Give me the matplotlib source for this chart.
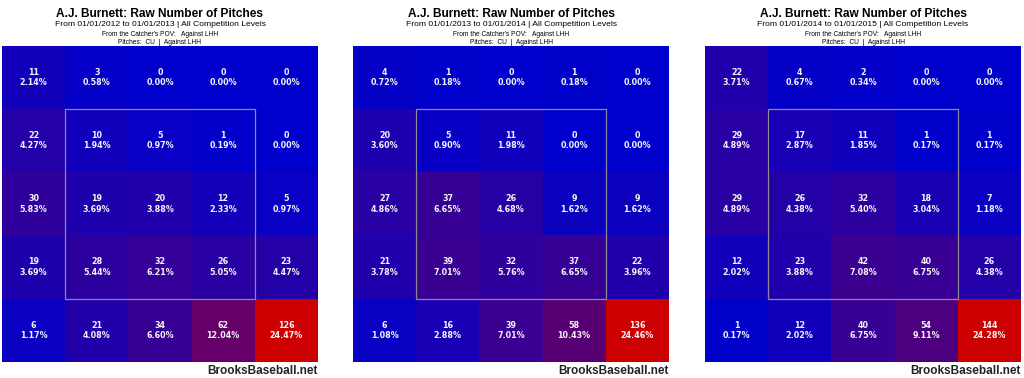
import matplotlib.pyplot as plt
from matplotlib.colors import LinearSegmentedColormap
from matplotlib.patches import Rectangle

W, H = 1024, 378

# Pitch counts by zone (rows top->bottom, cols left->right, catcher's POV)
counts_2012 = [[11, 3, 0, 0, 0],
               [22, 10, 5, 1, 0],
               [30, 19, 20, 12, 5],
               [19, 28, 32, 26, 23],
               [6, 21, 34, 62, 126]]
pcts_2012 = [[2.14, 0.58, 0.00, 0.00, 0.00],
             [4.27, 1.94, 0.97, 0.19, 0.00],
             [5.83, 3.69, 3.88, 2.33, 0.97],
             [3.69, 5.44, 6.21, 5.05, 4.47],
             [1.17, 4.08, 6.60, 12.04, 24.47]]

counts_2013 = [[4, 1, 0, 1, 0],
               [20, 5, 11, 0, 0],
               [27, 37, 26, 9, 9],
               [21, 39, 32, 37, 22],
               [6, 16, 39, 58, 136]]
pcts_2013 = [[0.72, 0.18, 0.00, 0.18, 0.00],
             [3.60, 0.90, 1.98, 0.00, 0.00],
             [4.86, 6.65, 4.68, 1.62, 1.62],
             [3.78, 7.01, 5.76, 6.65, 3.96],
             [1.08, 2.88, 7.01, 10.43, 24.46]]

counts_2014 = [[22, 4, 2, 0, 0],
               [29, 17, 11, 1, 1],
               [29, 26, 32, 18, 7],
               [12, 23, 42, 40, 26],
               [1, 12, 40, 54, 144]]
pcts_2014 = [[3.71, 0.67, 0.34, 0.00, 0.00],
             [4.89, 2.87, 1.85, 0.17, 0.17],
             [4.89, 4.38, 5.40, 3.04, 1.18],
             [2.02, 3.88, 7.08, 6.75, 4.38],
             [0.17, 2.02, 6.75, 9.11, 24.28]]

date_ranges = ["From 01/01/2012 to 01/01/2013",
               "From 01/01/2013 to 01/01/2014",
               "From 01/01/2014 to 01/01/2015"]

panels = [(counts_2012, pcts_2012), (counts_2013, pcts_2013), (counts_2014, pcts_2014)]
lefts = [2, 353, 705]  # pixel x of each heatmap
size = 316
top = 46

cmap = LinearSegmentedColormap.from_list('bb', ['#0000cc', '#cc0000'])

fig = plt.figure(figsize=(W / 100, H / 100), dpi=100)
fig.patch.set_facecolor('white')

for (counts, pcts), dates, left in zip(panels, date_ranges, lefts):
    ax = fig.add_axes([left / W, (H - top - size) / H, size / W, size / H])
    vmax = max(max(r) for r in counts)
    ax.imshow(counts, cmap=cmap, vmin=0, vmax=vmax, aspect='auto',
              extent=(0, 5, 5, 0), interpolation='nearest')
    for i in range(5):
        for j in range(5):
            ax.text(j + 0.5, i + 0.5, f"{counts[i][j]}\n{pcts[i][j]:.2f}%",
                    ha='center', va='center', color='#f4f4f8', fontsize=5.8,
                    fontweight='bold', family='DejaVu Sans', linespacing=1.2)
    # strike zone
    ax.add_patch(Rectangle((1, 1), 3, 3, fill=False, edgecolor='#8a8a9a', lw=0.9))
    ax.set_xlim(0, 5)
    ax.set_ylim(5, 0)
    ax.axis('off')

    cx = (left + size / 2) / W
    fig.text(cx, 1 - 14 / H, "A.J. Burnett: Raw Number of Pitches", ha='center', va='center',
             fontsize=8.6, fontweight='bold', family='Liberation Sans')
    fig.text(cx, 1 - 25 / H, f"{dates} | All Competition Levels", ha='center', va='center',
             fontsize=6.1, family='Liberation Sans')
    fig.text(cx, 1 - 34.5 / H, "From the Catcher's POV:   Against LHH", ha='center', va='center',
             fontsize=4.8, family='Liberation Sans')
    fig.text(cx, 1 - 42 / H, "Pitches:  CU  |  Against LHH", ha='center', va='center',
             fontsize=4.8, family='Liberation Sans')
    fig.text((left + size) / W, 1 - 371 / H, "BrooksBaseball.net", ha='right', va='center',
             fontsize=8.5, fontweight='bold', family='Liberation Sans', color='#222222')

fig.savefig('out.png', dpi=100)
